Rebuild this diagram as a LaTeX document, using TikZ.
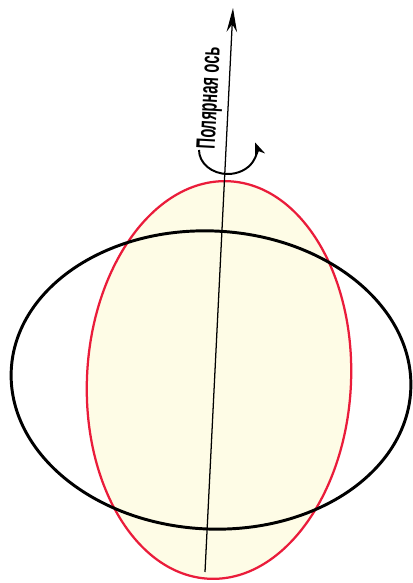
\documentclass[tikz,border=0pt]{standalone}
\usepackage{fontspec}
\setsansfont{Liberation Sans}
\usepackage{tikz}
\usetikzlibrary{arrows.meta}
\definecolor{ellred}{RGB}{234,28,58}
\definecolor{ellfill}{RGB}{254,252,230}

\begin{document}
\begin{tikzpicture}
    \useasboundingbox (0,0) rectangle (10.3,14.575);

    % 旋转后的椭球 (红)
    \draw[ellred, line width=1.6pt, fill=ellfill, rotate around={-3:(5.475,5.075)}]
        (5.475,5.075) ellipse [x radius=3.3, y radius=4.975];

    % 扁椭球 (黑)
    \draw[line width=2.1pt, rotate around={-3:(5.275,5.075)}]
        (5.275,5.075) ellipse [x radius=5.0, y radius=3.725];

    % 极轴
    \coordinate (axbot) at (5.125,0.275);
    \coordinate (axtop) at (5.825,14.375);
    \draw[line width=0.9pt, -{Stealth[length=6mm, width=2.6mm]}] (axbot) -- (axtop);
    \node[rotate=87, font=\sffamily\bfseries\fontsize{19}{19}\selectfont] (axlabel)
        at (5.27,12.12) {\scalebox{0.55}[1]{Полярная ось}};

    % 旋转方向
    \draw[line width=1.4pt, -{Stealth[length=3.4mm, width=2.6mm]}]
        (4.975,10.825) arc[start angle=180, end angle=378, x radius=0.72, y radius=0.6];
\end{tikzpicture}
\end{document}
